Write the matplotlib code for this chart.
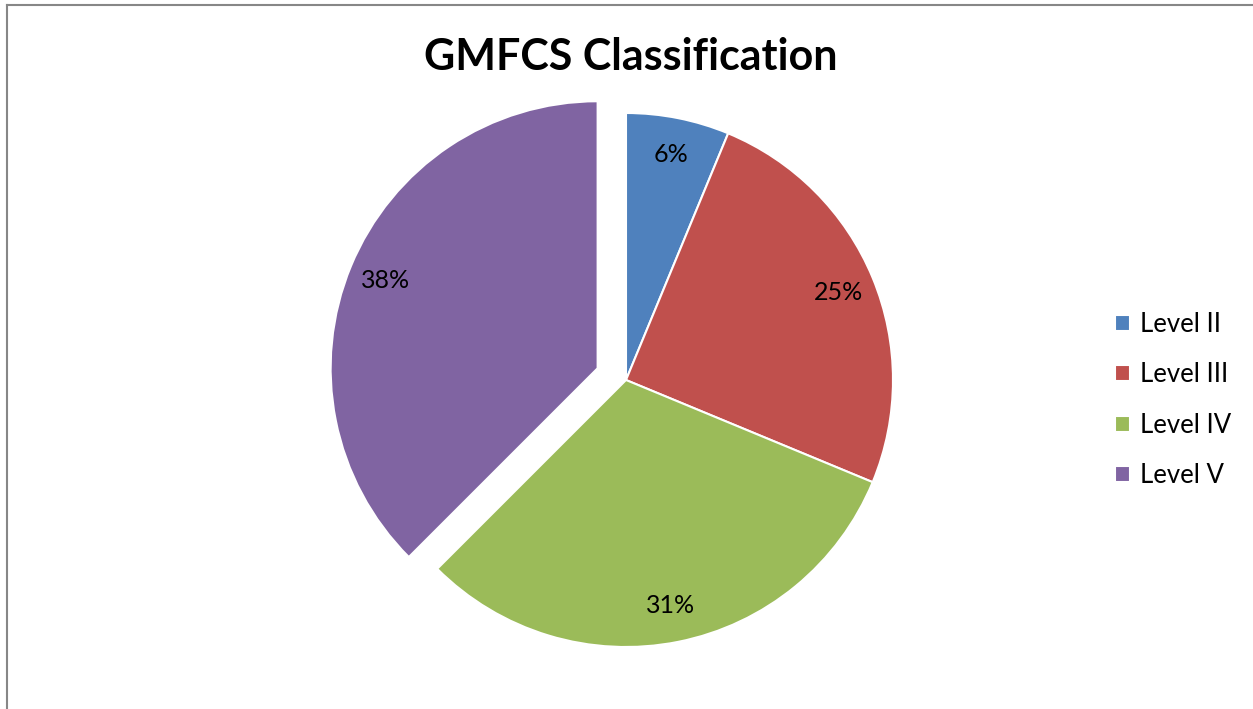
import matplotlib
matplotlib.use('Agg')
from matplotlib import pyplot as plt
from matplotlib.lines import Line2D

plt.rcParams['font.family'] = ['Lato', 'DejaVu Sans']

levels = ['Level II', 'Level III', 'Level IV', 'Level V']
counts = [2, 8, 10, 12]
explode = [0, 0, 0, 0.115]
colors = ['#4F81BD', '#C0504D', '#9BBB59', '#8064A2']

W, H = 1253, 709
fig = plt.figure(figsize=(W / 100, H / 100), dpi=100)

# pie centre (626, 380) px, radius ~267 px
half = 300
ax = fig.add_axes([(626 - half) / W, (H - 380 - half) / H, 2 * half / W, 2 * half / H])
wedges, texts, autotexts = ax.pie(
    counts, explode=explode, colors=colors, startangle=90, counterclock=False,
    autopct='%1.0f%%', pctdistance=0.86,
    wedgeprops=dict(edgecolor='white', linewidth=1.5),
    textprops=dict(fontsize=18, color='black'))
lim = half / 267
ax.set_xlim(-lim, lim)
ax.set_ylim(-lim, lim)
ax.set_aspect('equal')
ax.axis('off')

fig.text(631 / W, 1 - 57 / H, 'GMFCS Classification', ha='center', va='center',
         fontsize=31, fontweight='bold')

fig.legend(wedges, levels, loc='center left', bbox_to_anchor=(1115 / W, 1 - 400 / H),
           frameon=False, fontsize=18.5, handlelength=0.58, handleheight=0.58,
           handletextpad=0.4, labelspacing=0.98, borderpad=0, borderaxespad=0)

# chart frame (left and top edges visible)
fig.add_artist(Line2D([7 / W, 7 / W], [0, 1 - 5 / H], color='#878787', lw=1.5))
fig.add_artist(Line2D([7 / W, 1], [1 - 5 / H, 1 - 5 / H], color='#878787', lw=1.5))

fig.savefig('out.png', dpi=100)
